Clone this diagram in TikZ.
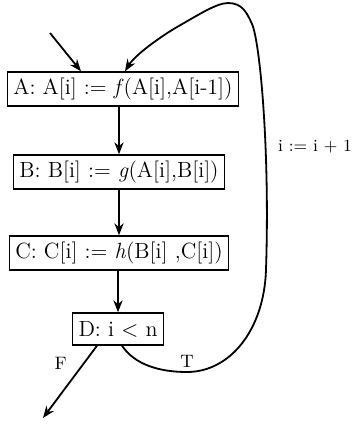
\documentclass[tikz,border=0pt]{standalone}
\usetikzlibrary{arrows.meta, calc}
\tikzset{
  stmt/.style={rectangle, draw, line width=0.7pt, inner xsep=3pt, inner ysep=3pt,
               minimum height=16pt, font=\fontsize{11}{13}\selectfont},
  arr/.style={-{Stealth[length=6pt, width=4.6pt]}, line width=0.9pt},
  lbl/.style={font=\fontsize{9}{11}\selectfont, inner sep=2pt},
}
\begin{document}
\begin{tikzpicture}[x=0.5pt, y=-0.5pt]
  \useasboundingbox (0,0) rectangle (353,425);

  % the four statements of the loop body
  \node[stmt] (A) at (123,89)  {A:~A[i]~:=~\textit{f}(A[i],A[i-1])};
  \node[stmt] (B) at (119,172) {B:~B[i]~:=~\textit{g}(A[i],B[i])};
  \node[stmt] (C) at (119,253) {C:~C[i]~:=~\textit{h}(B[i]~,C[i])};
  \node[stmt] (D) at (118,329) {D:~i~$<$~n};

  \coordinate (entry) at (50,33);
  \coordinate (exit) at (43,418);

  \draw[arr] (entry) -- ([xshift=-21pt]A.north);
  \draw[arr] (A.south -| B.north) -- (B.north);
  \draw[arr] (B.south) -- (C.north);
  \draw[arr] (C.south -| D.north) -- (D.north);

  % leaving the loop
  \draw[arr] ([xshift=-10.5pt]D.south) -- (exit) node[lbl, pos=0.25, left=6pt] {F};

  % back edge
  \draw[arr] ([xshift=2pt]D.south)
    .. controls (135,365) and (160,372) .. (187,372) node[lbl, above] (T) {T}
    .. controls (230,372) and (264,330) .. (266,270)
    .. controls (270,150) and (260,42) .. (252,24)
    .. controls (246.6,12) and (242,3) .. (228,3)
    .. controls (216,3) and (195,17) .. (177,27)
    .. controls (160,37) and (135,55) .. ([xshift=1pt]A.north);
  \node[lbl, font=\fontsize{8.5}{10}\selectfont] (inc) at (315,147) {i~:=~i~+~1};

\end{tikzpicture}
\end{document}
